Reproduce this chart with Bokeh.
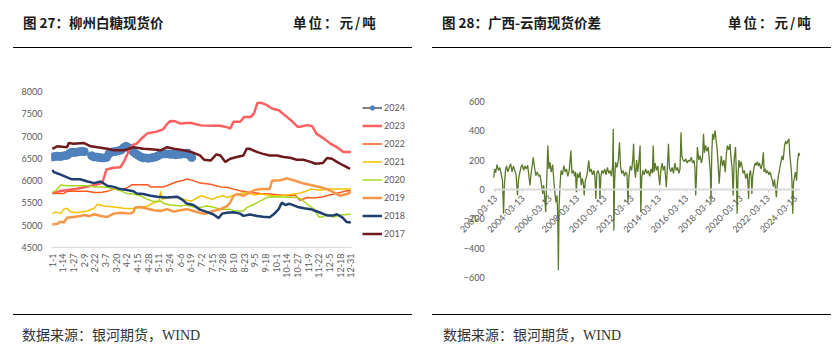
from datetime import datetime, timedelta
from math import pi
from bokeh.plotting import figure
from bokeh.models import Range1d, FixedTicker, Legend, LegendItem, Div, DatetimeTickFormatter
from bokeh.layouts import row, column
from bokeh.embed import file_html
from bokeh.resources import INLINE

# ---------------- left chart: Liuzhou white sugar spot price (day of year) ----------------
TICK_LABELS = ["1-1", "1-14", "1-27", "2-9", "2-22", "3-7", "3-20", "4-2", "4-15", "4-28",
               "5-11", "5-24", "6-6", "6-19", "7-2", "7-15", "7-28", "8-10", "8-23", "9-5",
               "9-18", "10-1", "10-14", "10-27", "11-9", "11-22", "12-5", "12-18", "12-31"]
TICK_DAYS = [13 * i for i in range(len(TICK_LABELS))]

days_2024 = [0, 3, 6, 9, 12, 15, 18, 21, 24, 27, 30, 33, 36, 39,
             48, 51, 54, 57, 60, 63, 66, 69, 72, 75, 78, 81, 84, 87, 90, 93, 96, 99, 102, 105,
             108, 111, 114, 117, 120, 123, 126, 129, 132, 135, 138, 141, 144, 147, 150, 153,
             156, 159, 162, 165, 168, 170]
vals_2024 = [6530, 6540, 6550, 6540, 6550, 6560, 6570, 6610, 6640, 6630, 6640, 6650, 6660, 6650,
             6560, 6530, 6530, 6520, 6510, 6510, 6520, 6600, 6640, 6650, 6660, 6670, 6690, 6740,
             6770, 6740, 6700, 6640, 6600, 6565, 6530, 6510, 6510, 6500, 6510, 6520, 6530, 6560,
             6590, 6600, 6600, 6600, 6590, 6590, 6580, 6590, 6590, 6600, 6600, 6620, 6560, 6520]

days_2023 = [0, 8, 30, 52, 61, 66, 75, 83, 88, 94, 98, 103, 109, 116, 127, 135, 139, 144, 150, 156,
             168, 181, 195, 205, 213, 217, 221, 229, 234, 242, 246, 250, 254, 261, 268, 276, 286,
             293, 299, 302, 311, 317, 322, 333, 339, 347, 355, 364]
vals_2023 = [5710, 5760, 5820, 5900, 5950, 6250, 6290, 6300, 6450, 6700, 6800, 6830, 6950, 7060,
             7100, 7150, 7250, 7340, 7330, 7280, 7300, 7240, 7230, 7230, 7200, 7170, 7320, 7320,
             7430, 7430, 7510, 7740, 7750, 7700, 7620, 7580, 7430, 7320, 7210, 7210, 7245, 7220,
             7055, 6920, 6830, 6750, 6640, 6640]

days_2022 = [0, 6, 14, 18, 43, 51, 59, 67, 75, 87, 91, 97, 103, 116, 120, 136, 144, 152, 160, 164,
             172, 180, 193, 205, 213, 221, 229, 241, 254, 265, 278, 290, 296, 302, 311, 319, 330,
             343, 351, 359, 364]
vals_2022 = [5735, 5710, 5710, 5760, 5760, 5735, 5735, 5760, 5810, 5810, 5840, 5910, 5910, 5910,
             5860, 5860, 5920, 5975, 6010, 6035, 6000, 5945, 5920, 5860, 5850, 5810, 5775, 5735,
             5710, 5700, 5680, 5660, 5680, 5560, 5620, 5610, 5640, 5700, 5735, 5775, 5775]

days_2021 = [0, 4, 10, 14, 18, 22, 30, 43, 51, 55, 63, 75, 87, 99, 107, 116, 124, 130, 132, 134,
             140, 152, 164, 170, 176, 182, 188, 195, 200, 208, 213, 221, 229, 237, 246, 254, 270,
             278, 286, 294, 302, 311, 315, 323, 330, 338, 364]
vals_2021 = [5260, 5300, 5260, 5360, 5380, 5300, 5280, 5320, 5380, 5470, 5430, 5410, 5380, 5375,
             5395, 5430, 5510, 5530, 5760, 5580, 5620, 5620, 5560, 5545, 5610, 5660, 5620, 5580,
             5620, 5660, 5620, 5670, 5710, 5735, 5680, 5700, 5660, 5660, 5680, 5700, 5720, 5775,
             5810, 5790, 5790, 5810, 5810]

days_2020 = [0, 4, 8, 10, 18, 43, 51, 59, 67, 75, 83, 91, 99, 107, 116, 124, 132, 136, 144, 156,
             164, 172, 180, 188, 196, 205, 217, 221, 233, 237, 246, 252, 257, 261, 268, 299, 302,
             311, 319, 325, 330, 335, 343, 351, 364]
vals_2020 = [5735, 5775, 5850, 5900, 5885, 5885, 5860, 5860, 5850, 5810, 5775, 5710, 5700, 5660,
             5580, 5530, 5545, 5485, 5455, 5430, 5455, 5410, 5395, 5430, 5410, 5360, 5360, 5320,
             5320, 5395, 5470, 5530, 5575, 5620, 5640, 5620, 5600, 5470, 5360, 5185, 5185, 5245,
             5185, 5230, 5245]

days_2019 = [0, 6, 10, 14, 18, 26, 34, 38, 45, 51, 59, 67, 75, 83, 95, 99, 101, 107, 116, 124,
             132, 140, 148, 156, 164, 172, 180, 186, 196, 205, 213, 217, 221, 225, 233, 241, 247,
             254, 265, 268, 278, 286, 294, 302, 311, 319, 327, 335, 343, 351, 359, 364]
vals_2019 = [5015, 5030, 5080, 5060, 5165, 5185, 5205, 5230, 5205, 5245, 5205, 5185, 5260, 5280,
             5260, 5300, 5395, 5410, 5370, 5335, 5320, 5360, 5305, 5335, 5360, 5320, 5280, 5255,
             5320, 5360, 5430, 5510, 5660, 5700, 5660, 5735, 5790, 5810, 5810, 6000, 6010, 6050,
             6010, 5960, 5920, 5885, 5850, 5810, 5735, 5660, 5700, 5735]

days_2018 = [0, 2, 8, 18, 24, 34, 43, 51, 59, 67, 75, 83, 91, 99, 103, 111, 120, 128, 140, 152,
             158, 164, 172, 180, 188, 196, 203, 207, 213, 221, 229, 233, 241, 250, 257, 265, 270,
             276, 280, 284, 289, 293, 299, 307, 315, 321, 327, 335, 343, 347, 354, 359, 364]
vals_2018 = [6240, 6190, 6150, 6075, 6030, 6030, 5980, 5945, 5980, 5885, 5860, 5810, 5790, 5760,
             5710, 5700, 5660, 5640, 5620, 5640, 5580, 5485, 5455, 5350, 5300, 5245, 5160, 5260,
             5280, 5290, 5260, 5210, 5240, 5205, 5190, 5180, 5245, 5360, 5510, 5455, 5480, 5455,
             5410, 5380, 5360, 5320, 5280, 5220, 5220, 5245, 5170, 5070, 5060]

days_2017 = [0, 6, 18, 20, 26, 38, 47, 55, 67, 75, 87, 99, 111, 124, 132, 140, 148, 160, 170, 180,
             185, 193, 200, 205, 211, 217, 225, 233, 237, 241, 250, 257, 265, 274, 282, 290, 298,
             306, 315, 321, 330, 335, 341, 347, 355, 363]
vals_2017 = [6715, 6770, 6750, 6845, 6830, 6845, 6770, 6750, 6715, 6680, 6680, 6750, 6715, 6700,
             6680, 6750, 6715, 6680, 6640, 6565, 6470, 6450, 6590, 6565, 6420, 6490, 6530, 6565,
             6715, 6715, 6640, 6600, 6565, 6565, 6530, 6515, 6470, 6470, 6420, 6380, 6395, 6510,
             6490, 6420, 6340, 6265]

# ---------------- right chart: Guangxi - Yunnan spot spread ----------------
spread_years = [
    2002.06, 2002.12, 2002.2, 2002.3, 2002.4, 2002.5, 2002.6, 2002.7, 2002.78, 2002.84, 2002.92,
    2003.0, 2003.1, 2003.2, 2003.3, 2003.4, 2003.5, 2003.6, 2003.7, 2003.8, 2003.88, 2003.96,
    2004.05, 2004.15, 2004.25, 2004.35, 2004.45, 2004.55, 2004.63, 2004.72, 2004.8, 2004.88, 2004.96,
    2005.05, 2005.15, 2005.25, 2005.35, 2005.45, 2005.55, 2005.65, 2005.72, 2005.8, 2005.87, 2005.95,
    2006.03, 2006.1, 2006.18, 2006.28, 2006.38, 2006.47, 2006.54, 2006.62, 2006.7, 2006.76, 2006.8,
    2006.85, 2006.93, 2007.0, 2007.1, 2007.2, 2007.3, 2007.4, 2007.5, 2007.6, 2007.72, 2007.8, 2007.9,
    2008.0, 2008.06, 2008.12, 2008.2, 2008.3, 2008.4, 2008.48, 2008.56, 2008.64, 2008.7, 2008.78,
    2008.9, 2009.03, 2009.1, 2009.2, 2009.3, 2009.4, 2009.48, 2009.55, 2009.62, 2009.72, 2009.8,
    2009.85, 2009.92, 2010.0, 2010.1, 2010.2, 2010.3, 2010.4, 2010.5, 2010.6, 2010.7, 2010.78,
    2010.83, 2010.87, 2010.93, 2011.0, 2011.1, 2011.2, 2011.29, 2011.36, 2011.45, 2011.55, 2011.65,
    2011.75, 2011.84, 2011.91, 2011.98, 2012.08, 2012.18, 2012.26, 2012.32, 2012.38, 2012.46,
    2012.54, 2012.62, 2012.7, 2012.8, 2012.85, 2012.92, 2013.0, 2013.1, 2013.2, 2013.3, 2013.4,
    2013.5, 2013.6, 2013.7, 2013.76, 2013.82, 2013.9, 2014.0, 2014.1, 2014.18, 2014.24, 2014.32,
    2014.42, 2014.5, 2014.6, 2014.66, 2014.72, 2014.8, 2014.88, 2014.95, 2015.05, 2015.15, 2015.25,
    2015.35, 2015.45, 2015.55, 2015.65, 2015.73, 2015.8, 2015.86, 2015.95, 2016.05, 2016.15,
    2016.25, 2016.35, 2016.45, 2016.55, 2016.65, 2016.75, 2016.82, 2016.88, 2016.94, 2017.0,
    2017.1, 2017.2, 2017.3, 2017.38, 2017.45, 2017.52, 2017.6, 2017.7, 2017.8, 2017.88, 2017.95,
    2018.0, 2018.06, 2018.12, 2018.2, 2018.3, 2018.38, 2018.45, 2018.52, 2018.6, 2018.68, 2018.75,
    2018.85, 2018.95, 2019.05, 2019.12, 2019.2, 2019.3, 2019.4, 2019.48, 2019.55, 2019.63, 2019.7,
    2019.8, 2019.86, 2019.92, 2019.98, 2020.05, 2020.12, 2020.2, 2020.28, 2020.36, 2020.45,
    2020.55, 2020.65, 2020.72, 2020.76, 2020.82, 2020.9, 2020.96, 2021.0, 2021.06, 2021.14,
    2021.24, 2021.32, 2021.4, 2021.48, 2021.56, 2021.66, 2021.76, 2021.84, 2021.9, 2021.98,
    2022.06, 2022.14, 2022.24, 2022.32, 2022.42, 2022.5, 2022.58, 2022.66, 2022.74, 2022.8,
    2022.86, 2022.94, 2023.04, 2023.14, 2023.22, 2023.3, 2023.4, 2023.48, 2023.56, 2023.64,
    2023.72, 2023.8, 2023.88, 2023.94, 2024.0, 2024.06, 2024.12, 2024.2, 2024.28, 2024.36,
    2024.44, 2024.52]
spread_vals = [
    80, 140, 115, 170, 130, 150, 110, 60, -166, 30, 130,
    160, 120, 150, 175, 120, 160, 130, 100, -40, 70, 110,
    150, 170, 130, 160, 140, 165, 100, 27, 110, 160, 220,
    150, 95, 120, 90, 100, 40, -30, 30, -60, -155, 80,
    300, 140, 186, 118, 170, 60, -18, -86, -40, -200, -550,
    -120, 40, 130, 100, 163, 120, 140, 90, 130, 265, 110, 130,
    90, 120, -18, 110, 80, 120, 30, 75, 40, -40, 60,
    100, 197, 120, 140, 100, 130, 90, -64, 110, 130, 100,
    -64, 90, 130, 110, 140, 100, 150, 110, 130, 90, 160,
    413, -280, 60, 186, 150, 200, 322, 160, 110, 130, 90,
    120, 100, -86, 90, 160, 130, 200, 311, 150, 80,
    200, 120, 180, 300, -155, 80, 130, 100, 140, 110, 130,
    90, 140, 110, 300, 120, 180, 130, 160, 80, 30, 130,
    180, 130, 160, 90, 16, 150, 311, 150, 120, 150, 110,
    180, 130, 150, 110, 140, 390, 230, 200, 190, 210,
    180, 200, 190, 220, 180, 200, 150, -40, 100, 290,
    200, 230, 180, 220, 380, 250, 300, 260, 290, 200, 120,
    -86, 250, 380, 340, 402, 330, 277, 180, 39, 150, 230,
    160, 200, 118, 230, 300, 270, 310, 200, 150, -40, 200,
    290, 120, -166, 80, 200, 150, 190, 160, 110, 130,
    75, 110, 30, -64, 100, 130, 75, -30, 90, 140,
    180, 165, 190, 160, 180, 140, 170, 254, 120, 140,
    110, 130, 100, 120, 90, 60, 20, 70, 0, -52,
    30, 90, 140, 190, 230, 200, 300, 330, 310, 330,
    345, 220, 150, 60, -166, 50, 80, 118, 60, 200,
    250, 230]
SPREAD_TICK_YEARS = list(range(2002, 2025, 2))
SPREAD_TICKS_Y = list(range(-600, 601, 200))
SPREAD_START = 2002.056     # first date shown on the axis
SPREAD_END = 2024.57        # last date shown on the axis
SPREAD_VIEW_START = 1999.4  # left edge of the drawing area (room for the first rotated label)
SPREAD_VIEW_Y = 668         # vertical half-extent of the drawing area (room for the 600 labels)

FONT = "Lato"
GRAY = "#595959"
CJK = "'Noto Sans CJK SC', sans-serif"


def to_dt(y):
    base = datetime(int(y), 1, 1)
    return base + timedelta(days=(y - int(y)) * 365.25)


def ms(d):
    return (d - datetime(1970, 1, 1)).total_seconds() * 1000.0


def style_axis(ax):
    ax.major_label_text_font = FONT
    ax.major_label_text_font_size = "9px"
    ax.major_label_text_color = GRAY
    ax.minor_tick_line_color = None


# ---------------- left figure ----------------
p1 = figure(width=419, height=250, output_backend="svg", toolbar_location=None,
            x_range=Range1d(-1, 438), y_range=Range1d(4500, 8000),
            min_border_left=51, min_border_right=8, min_border_top=41, min_border_bottom=53)
p1.outline_line_color = None
p1.xgrid.visible = False
p1.ygrid.visible = False

l24 = p1.line(days_2024, vals_2024, line_color="black", line_width=1)
c24 = p1.scatter(days_2024, vals_2024, marker="circle", size=8,
                 fill_color="#4F81BD", line_color="#4F81BD")
series = [
    ("2023", days_2023, vals_2023, "#FF5F5F", 2.5),
    ("2022", days_2022, vals_2022, "#FF5A1E", 1.5),
    ("2021", days_2021, vals_2021, "#F2C200", 1.5),
    ("2020", days_2020, vals_2020, "#A8D81E", 1.5),
    ("2019", days_2019, vals_2019, "#F79646", 2.5),
    ("2018", days_2018, vals_2018, "#1F3F6E", 2.5),
    ("2017", days_2017, vals_2017, "#6E1A1C", 2.5),
]
items = [LegendItem(label="2024", renderers=[l24, c24])]
for name, xs, ys, col, w in series:
    r = p1.line(xs, ys, line_color=col, line_width=w)
    items.append(LegendItem(label=name, renderers=[r]))

leg = Legend(items=items, location=(311, 8), border_line_color=None,
             background_fill_alpha=0, label_text_font=FONT, label_text_font_size="9px",
             label_text_color=GRAY, glyph_width=20, glyph_height=11, label_height=11,
             spacing=7, padding=0, margin=0, label_standoff=2)
p1.add_layout(leg)

p1.yaxis.ticker = FixedTicker(ticks=list(range(4500, 8001, 500)), minor_ticks=[])
p1.yaxis.axis_line_color = None
p1.yaxis.major_tick_line_color = None
p1.yaxis.major_tick_out = 0
p1.yaxis.major_tick_in = 0
p1.yaxis.major_label_standoff = 9
p1.xaxis.ticker = FixedTicker(ticks=TICK_DAYS, minor_ticks=[])
p1.xaxis.major_label_overrides = {d: t for d, t in zip(TICK_DAYS, TICK_LABELS)}
p1.xaxis.major_label_orientation = pi / 2
p1.xaxis.bounds = (-1, 365)
p1.xaxis.axis_line_color = "#D9D9D9"
p1.xaxis.axis_line_width = 1
p1.xaxis.major_tick_line_color = None
p1.xaxis.major_tick_out = 0
p1.xaxis.major_tick_in = 0
p1.xaxis.major_label_standoff = 6
style_axis(p1.xaxis)
style_axis(p1.yaxis)

# ---------------- right figure ----------------
p2 = figure(width=419, height=307, output_backend="svg", toolbar_location=None,
            x_axis_type="datetime",
            x_range=Range1d(to_dt(SPREAD_VIEW_START), to_dt(SPREAD_END)),
            y_range=Range1d(-SPREAD_VIEW_Y, SPREAD_VIEW_Y),
            min_border_left=38, min_border_right=38, min_border_top=41, min_border_bottom=70)
p2.outline_line_color = None
p2.border_fill_color = None
p2.xgrid.visible = False
p2.ygrid.visible = False
p2.line([to_dt(y) for y in spread_years], spread_vals, line_color="#5B7A2B", line_width=1.3)

p2.yaxis.fixed_location = ms(to_dt(SPREAD_START))
p2.yaxis.ticker = FixedTicker(ticks=SPREAD_TICKS_Y, minor_ticks=[])
p2.yaxis.axis_line_color = None
p2.yaxis.major_tick_line_color = None
p2.yaxis.major_tick_out = 0
p2.yaxis.major_tick_in = 0
p2.yaxis.major_label_standoff = 9
p2.xaxis.fixed_location = 0
p2.xaxis.bounds = (to_dt(SPREAD_START), to_dt(SPREAD_END))
p2.xaxis.ticker = FixedTicker(ticks=[ms(datetime(y, 3, 13)) for y in SPREAD_TICK_YEARS], minor_ticks=[])
fmt = "%Y-%m-%d"
p2.xaxis.formatter = DatetimeTickFormatter(years=fmt, months=fmt, days=fmt, hours=fmt,
                                           minutes=fmt, seconds=fmt, milliseconds=fmt,
                                           microseconds=fmt, hourmin=fmt, minsec=fmt)
p2.xaxis.major_label_orientation = pi / 4
p2.xaxis.axis_line_color = "#D9D9D9"
p2.xaxis.axis_line_width = 2
p2.xaxis.major_tick_line_color = "#D9D9D9"
p2.xaxis.major_tick_in = 0
p2.xaxis.major_tick_out = 3
p2.xaxis.major_label_standoff = 4
style_axis(p2.xaxis)
style_axis(p2.yaxis)


# ---------------- header / footer ----------------
def header(title, title_left, unit_left):
    html = (
        f'<div style="position:relative;width:419px;height:50px;font-family:{CJK};">'
        f'<span style="position:absolute;left:{title_left}px;top:13px;font-size:13.5px;font-weight:bold;'
        f'color:#1a1a1a;line-height:18px;white-space:nowrap;">{title}</span>'
        f'<span style="position:absolute;left:{unit_left}px;top:13px;font-size:13.5px;font-weight:bold;'
        f'color:#1a1a1a;line-height:18px;white-space:nowrap;letter-spacing:2px;">单位：元/吨</span>'
        f'<div style="position:absolute;left:13px;top:47px;width:399px;height:0;'
        f'border-top:1.2px solid #000;"></div></div>'
    )
    return Div(text=html, width=419, height=50, margin=0)


def footer(text_left, top_margin):
    html = (
        f'<div style="position:relative;width:419px;height:58px;">'
        f'<div style="position:absolute;left:13px;top:14px;width:399px;height:0;'
        f'border-top:1.2px solid #000;"></div>'
        f'<span style="position:absolute;left:{text_left}px;top:27px;font-size:14px;'
        f"font-family:'Liberation Serif', 'Noto Sans CJK SC', serif;color:#333333;line-height:18px;"
        f'white-space:nowrap;">数据来源：银河期货，WIND</span></div>'
    )
    return Div(text=html, width=419, height=58, margin=(top_margin, 0, 0, 0))


h1 = header("图 27：柳州白糖现货价", 23, 293)
h2 = header("图 28：广西-云南现货价差", 23, 309)
f1 = footer(22, 0)
f2 = footer(24, -57)

left_col = column(h1, p1, f1, spacing=0)
right_col = column(h2, p2, f2, spacing=0)
layout = row(left_col, right_col, spacing=0)

open("out.html", "w").write(file_html(layout, INLINE))
